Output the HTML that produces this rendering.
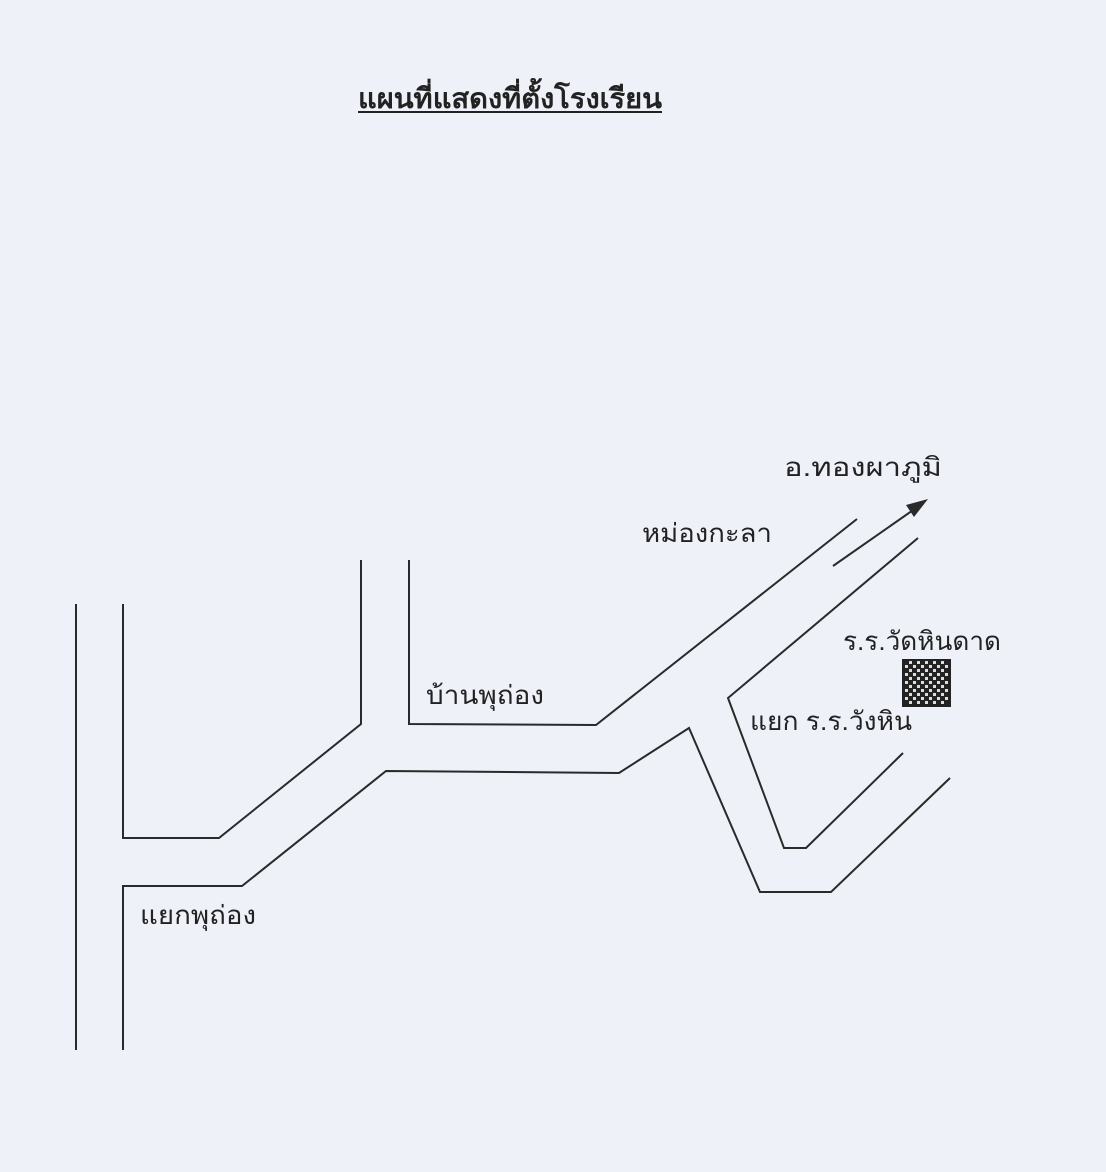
<!DOCTYPE html>
<html><head><meta charset="utf-8"><style>
body{margin:0;background:#eff1f8;}
svg{display:block}
text{font-family:"Liberation Sans","DejaVu Sans",sans-serif;fill:#222;}
</style></head><body>
<svg width="1106" height="1172" viewBox="0 0 1106 1172" xmlns="http://www.w3.org/2000/svg">
<defs>
<pattern id="ck" width="8" height="8" patternUnits="userSpaceOnUse">
<rect width="8" height="8" fill="#222"/>
<rect x="1" y="1" width="3" height="3" fill="#ddd"/>
<rect x="5" y="5" width="3" height="3" fill="#ddd"/>
</pattern>
</defs>
<rect width="1106" height="1172" fill="#eff1f8"/>
<text x="358" y="108" font-size="28" font-weight="bold" textLength="304" lengthAdjust="spacingAndGlyphs">แผนที่แสดงที่ตั้งโรงเรียน</text>
<line x1="358" y1="112" x2="662" y2="112" stroke="#222" stroke-width="2"/>
<g fill="none" stroke="#2a2a2a" stroke-width="2">
<line x1="76" y1="604" x2="76" y2="1050"/>
<polyline points="123,604 123,838 219,838 361,724 361,560"/>
<polyline points="123,1050 123,886 242,886 386,771 619,773 689,728 760,892 831,892 950,778"/>
<polyline points="409,560 409,724 596,725 857,519"/>
<line x1="833" y1="566" x2="916" y2="508"/>
<polyline points="918,538 728,698 784,848 806,848 903,753"/>
</g>
<polygon points="928,499 906,505 914,517" fill="#2a2a2a"/>
<rect x="903" y="660" width="47" height="46" fill="url(#ck)" stroke="#222" stroke-width="2"/>
<text x="784" y="476" font-size="26" textLength="158" lengthAdjust="spacingAndGlyphs">อ.ทองผาภูมิ</text>
<text x="642" y="542" font-size="26" textLength="130" lengthAdjust="spacingAndGlyphs">หม่องกะลา</text>
<text x="843" y="650" font-size="26" textLength="158" lengthAdjust="spacingAndGlyphs">ร.ร.วัดหินดาด</text>
<text x="750" y="730" font-size="26" textLength="162" lengthAdjust="spacingAndGlyphs">แยก ร.ร.วังหิน</text>
<text x="426" y="704" font-size="26" textLength="118" lengthAdjust="spacingAndGlyphs">บ้านพุถ่อง</text>
<text x="140" y="924" font-size="26" textLength="116" lengthAdjust="spacingAndGlyphs">แยกพุถ่อง</text>
</svg>
</body></html>
